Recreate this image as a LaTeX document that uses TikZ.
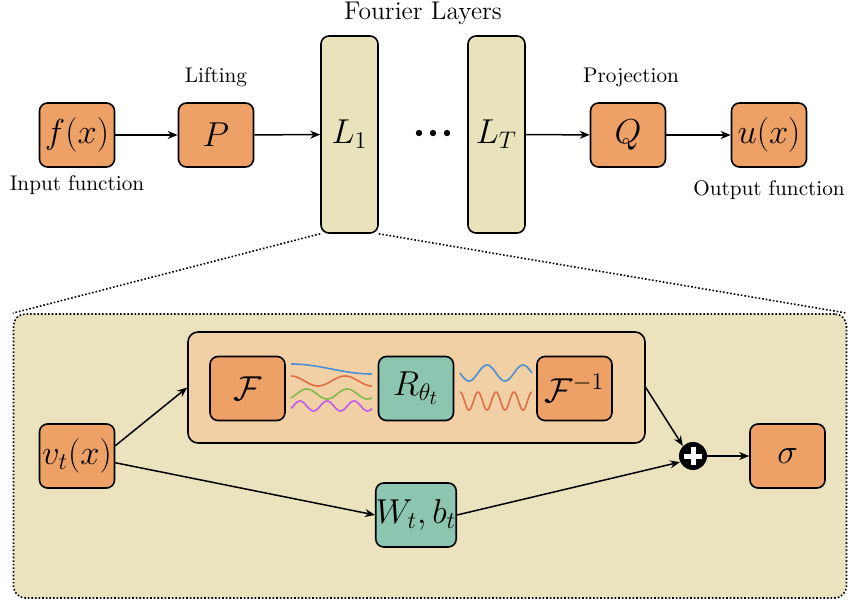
\documentclass[tikz,border=0pt]{standalone}
\usetikzlibrary{arrows.meta,calc}
\definecolor{boxorange}{RGB}{237,161,102}
\definecolor{layerkhaki}{RGB}{233,227,188}
\definecolor{bigkhaki}{RGB}{235,227,190}
\definecolor{peach}{RGB}{242,208,165}
\definecolor{tealgreen}{RGB}{140,197,176}
\definecolor{wblue}{RGB}{74,144,210}
\definecolor{worange}{RGB}{226,110,70}
\definecolor{wgreen}{RGB}{130,185,80}
\definecolor{wpurple}{RGB}{190,90,240}
\begin{document}
\begin{tikzpicture}[x=0.5pt,y=-0.5pt,
  opbox/.style={draw=black,line width=0.8pt,rounded corners=4pt,fill=boxorange,minimum width=37.5pt,minimum height=32pt,inner sep=0pt,font=\LARGE},
  grbox/.style={opbox,fill=tealgreen},
  layer/.style={draw=black,line width=0.8pt,rounded corners=4pt,fill=layerkhaki,minimum width=28.5pt,minimum height=98.5pt,inner sep=0pt,font=\LARGE},
  arr/.style={line width=0.75pt,-{Stealth[length=5pt,width=4pt]}},
  lbl/.style={font=\fontsize{10.6}{12}\selectfont,inner sep=0pt},
  wave/.style={line width=0.8pt,smooth}]
\useasboundingbox (0,0) rectangle (848,605);
% top row
\node[opbox] (f) at (77,135) {$f(x)$};
\node[opbox] (P) at (216,135) {$P$};
\node[layer] (L1) at (349.5,134.5) {$L_1$};
\node[inner sep=0pt,minimum size=4pt] (dots) at (433,133) {};
\foreach \dx in {-14,0,14} \fill ($(dots)+(\dx,0)$) circle (3.2);
\node[layer] (LT) at (496.5,134.5) {$L_T$};
\node[opbox] (Q) at (628,135) {$Q$};
\node[opbox] (u) at (769,135) {$u(x)$};
\node[lbl] (tin) at (77,185) {Input function};
\node[lbl] (tlift) at (216,77) {Lifting};
\node[lbl,font=\fontsize{12.8}{15}\selectfont] (tfour) at (423,13) {Fourier Layers};
\node[lbl] (tproj) at (631,77) {Projection};
\node[lbl] (tout) at (769,190) {Output function};
\draw[arr] (f) -- (P);
\draw[arr] (P) -- (L1);
\draw[arr] (LT) -- (Q);
\draw[arr] (Q) -- (u);
% big box
\node[draw=black,densely dotted,line width=0.8pt,rounded corners=6pt,fill=bigkhaki,minimum width=416.5pt,minimum height=142pt,inner sep=0pt] (big) at (430,456) {};
\draw[densely dotted,line width=0.8pt] (L1.south west) -- (big.north west);
\draw[densely dotted,line width=0.8pt] (L1.south east) -- (big.north east);
% inner box
\node[draw=black,line width=0.8pt,rounded corners=5pt,fill=peach,minimum width=228.5pt,minimum height=55.5pt,inner sep=0pt] (inner) at (416.5,387.5) {};
\node[opbox] (F) at (247.5,388.5) {$\mathcal{F}$};
\node[grbox] (R) at (416,388.5) {$R_{\theta_t}$};
\node[opbox] (Fi) at (574.5,388.5) {$\mathcal{F}^{-1}$};
% waves left
\draw[wave,wblue] plot[domain=0:1,samples=40] ({291+81*\x},{369-5*cos(180*\x)});
\draw[wave,worange] plot[domain=0:1,samples=60] ({291+81*\x},{381-5*cos(360*1.5*\x)});
\draw[wave,wgreen] plot[domain=0:1,samples=60] ({291+81*\x},{394+5*cos(360*2*\x+40)});
\draw[wave,wpurple] plot[domain=0:1,samples=80] ({291+81*\x},{406+5*cos(360*3*\x+60)});
% waves right
\draw[wave,wblue] plot[domain=0:1,samples=60] ({460+72*\x},{373+8*sin(360*2*\x)});
\draw[wave,worange] plot[domain=0:1,samples=100] ({460+72*\x},{401+9*cos(360*4*\x+180)});
% lower row
\node[opbox] (v) at (77,456) {$v_t(x)$};
\node[grbox] (W) at (416,515) {$W_t,b_t$};
\node[opbox] (sig) at (787.5,456) {$\sigma$};
\node[circle,fill=black,minimum size=14pt,inner sep=0pt] (plus) at (693,456) {};
\draw[white,line width=2.5pt] ($(plus)+(-9,0)$) -- ($(plus)+(9,0)$) ($(plus)+(0,-9)$) -- ($(plus)+(0,9)$);
\draw[arr] (v.15) -- (inner.west);
\draw[arr] (v.-10) -- (W.west);
\draw[arr] (W.east) -- (plus.205);
\draw[arr] (inner.east) -- (plus.north west);
\draw[arr] (plus.east) -- (sig.west);
\end{tikzpicture}
\end{document}
